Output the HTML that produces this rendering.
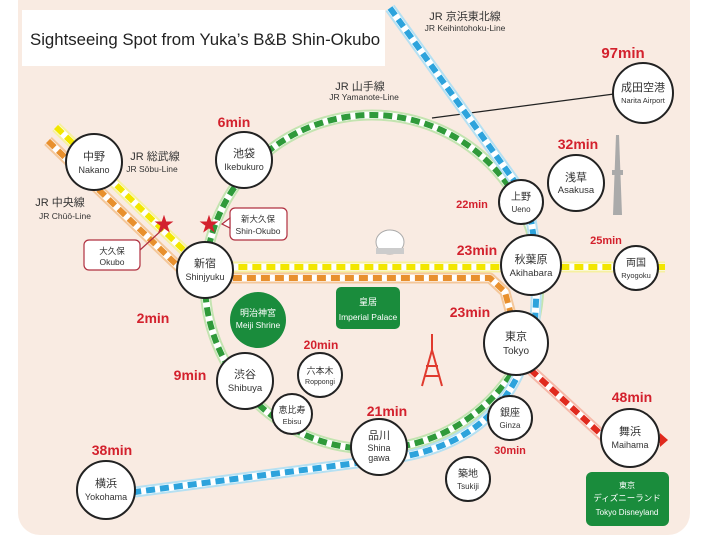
<!DOCTYPE html>
<html><head><meta charset="utf-8"><style>
html,body{margin:0;padding:0;background:#fff;}
svg{display:block;font-family:"Liberation Sans","Noto Sans CJK JP",sans-serif;}
.t{fill:#d3212d;font-weight:bold;}
.j{fill:#333;}
</style></head><body>
<svg width="720" height="540" viewBox="0 0 720 540" xmlns="http://www.w3.org/2000/svg">
<rect x="18" y="-20" width="672" height="555" rx="22" fill="#f9ebe2"/>
<rect x="22" y="10" width="363" height="56" fill="#fff"/>
<text x="30" y="45" font-size="16.8" fill="#222">Sightseeing Spot from Yuka’s B&amp;B Shin-Okubo</text>

<line x1="432" y1="118" x2="614" y2="94" stroke="#222" stroke-width="1.2"/>

<g fill="none" stroke-linejoin="round">
<g>
<path id="chuo" d="M48 141 L180 268 L205 278 L490 278 L505 292 L512 318"/>
<use href="#chuo" stroke="#f4c79a" stroke-width="11"/>
<use href="#chuo" stroke="#fff" stroke-width="7"/>
<use href="#chuo" stroke="#e8902e" stroke-width="6" stroke-dasharray="9 5"/>
</g>
<g>
<path id="sobu" d="M56 127 L192 258 L205 267 L665 267"/>
<use href="#sobu" stroke="#f6f0a0" stroke-width="11"/>
<use href="#sobu" stroke="#fff" stroke-width="7"/>
<use href="#sobu" stroke="#f2e600" stroke-width="6" stroke-dasharray="9 5"/>
</g>
<g>
<circle id="yam" cx="372" cy="282" r="167"/>
<use href="#yam" stroke="#c3e4b0" stroke-width="11"/>
<use href="#yam" stroke="#fff" stroke-width="7"/>
<use href="#yam" stroke="#2f9a3a" stroke-width="6" stroke-dasharray="9 5"/>
</g>
<g>
<path id="kt" d="M390 8 L528 200 L538 265 L535 320 Q515 440 395 458 L135 492"/>
<use href="#kt" stroke="#b5e0f2" stroke-width="11"/>
<use href="#kt" stroke="#fff" stroke-width="7"/>
<use href="#kt" stroke="#2da3dc" stroke-width="6" stroke-dasharray="9 5"/>
</g>
<g>
<path id="ky" d="M520 360 L605 438 L660 440"/>
<use href="#ky" stroke="#f6b8a8" stroke-width="11"/>
<use href="#ky" stroke="#fff" stroke-width="7"/>
<use href="#ky" stroke="#e02a1e" stroke-width="6" stroke-dasharray="9 5"/>
</g>
</g>
<polygon points="660,433 668,440 660,447" fill="#e02a1e"/>

<text x="164" y="231" font-size="20" fill="#d3212d" text-anchor="middle">★</text>
<text x="209" y="231" font-size="20" fill="#d3212d" text-anchor="middle">★</text>
<rect x="230" y="208" width="57" height="32" rx="5" fill="#fff" stroke="#b03040" stroke-width="1.2"/>
<polygon points="230,218 222,224 230,228" fill="#fff" stroke="#b03040" stroke-width="1.2"/>
<text x="258" y="222" font-size="8.5" text-anchor="middle" class="j">新大久保</text>
<text x="258" y="234" font-size="8.5" text-anchor="middle" class="j">Shin-Okubo</text>
<rect x="84" y="240" width="56" height="30" rx="5" fill="#fff" stroke="#b03040" stroke-width="1.2"/>
<line x1="140" y1="250" x2="163" y2="229" stroke="#b03040" stroke-width="1.2"/>
<text x="112" y="254" font-size="8.5" text-anchor="middle" class="j">大久保</text>
<text x="112" y="265" font-size="8.5" text-anchor="middle" class="j">Okubo</text>

<g font-size="11" class="j" text-anchor="middle">
<text x="465" y="20">JR 京浜東北線</text>
<text x="360" y="90">JR 山手線</text>
<text x="155" y="160">JR 総武線</text>
<text x="60" y="206">JR 中央線</text>
</g>
<g font-size="8.5" class="j" text-anchor="middle">
<text x="465" y="31">JR Keihintohoku-Line</text>
<text x="364" y="100">JR Yamanote-Line</text>
<text x="152" y="172">JR Sōbu-Line</text>
<text x="65" y="219">JR Chūō-Line</text>
</g>

<circle cx="258" cy="320" r="28" fill="#1a8c3c"/>
<text x="258" y="316" font-size="9" fill="#fff" text-anchor="middle">明治神宮</text>
<text x="258" y="328" font-size="8.5" fill="#fff" text-anchor="middle">Meiji Shrine</text>
<rect x="336" y="287" width="64" height="42" rx="5" fill="#1a8c3c"/>
<text x="368" y="305" font-size="9" fill="#fff" text-anchor="middle">皇居</text>
<text x="368" y="320" font-size="8.5" fill="#fff" text-anchor="middle">Imperial Palace</text>
<rect x="586" y="472" width="83" height="54" rx="6" fill="#1a8c3c"/>
<text x="627" y="488" font-size="8" fill="#fff" text-anchor="middle">東京</text>
<text x="627" y="501" font-size="8.5" fill="#fff" text-anchor="middle">ディズニーランド</text>
<text x="627" y="515" font-size="8" fill="#fff" text-anchor="middle">Tokyo Disneyland</text>

<ellipse cx="390" cy="242" rx="14" ry="12" fill="#fff" stroke="#aaa"/>
<rect x="376" y="248" width="28" height="6" fill="#ccc"/>
<g stroke="#e03a2e" stroke-width="2" fill="none">
<path d="M432 334 L432 350 M432 350 L422 386 M432 350 L442 386 M426 366 L438 366 M424 376 L440 376"/>
</g>
<g fill="#aaa"><polygon points="616,135 619,135 622,215 613,215"/><rect x="612" y="170" width="11" height="5"/></g>

<g fill="#fff" stroke="#222" stroke-width="2">
<circle cx="94" cy="162" r="28"/>
<circle cx="244" cy="160" r="28"/>
<circle cx="205" cy="270" r="28"/>
<circle cx="521" cy="202" r="22"/>
<circle cx="643" cy="93" r="30"/>
<circle cx="576" cy="183" r="28"/>
<circle cx="531" cy="265" r="30"/>
<circle cx="636" cy="268" r="22"/>
<circle cx="516" cy="343" r="32"/>
<circle cx="379" cy="447" r="28"/>
<circle cx="510" cy="418" r="22"/>
<circle cx="468" cy="479" r="22"/>
<circle cx="630" cy="438" r="29"/>
<circle cx="245" cy="381" r="28"/>
<circle cx="292" cy="414" r="20"/>
<circle cx="320" cy="375" r="22"/>
<circle cx="106" cy="490" r="29"/>
</g>
<g class="j" text-anchor="middle" font-size="11">
<text x="94" y="160">中野</text><text x="94" y="173" font-size="9">Nakano</text>
<text x="244" y="157">池袋</text><text x="244" y="170" font-size="9">Ikebukuro</text>
<text x="205" y="267">新宿</text><text x="205" y="280" font-size="9">Shinjyuku</text>
<text x="521" y="200" font-size="10">上野</text><text x="521" y="212" font-size="8">Ueno</text>
<text x="643" y="91">成田空港</text><text x="643" y="103" font-size="7.5">Narita Airport</text>
<text x="576" y="181">浅草</text><text x="576" y="193" font-size="9.5">Asakusa</text>
<text x="531" y="263">秋葉原</text><text x="531" y="276" font-size="9.5">Akihabara</text>
<text x="636" y="266" font-size="10">両国</text><text x="636" y="278" font-size="7.5">Ryogoku</text>
<text x="516" y="340">東京</text><text x="516" y="354" font-size="10">Tokyo</text>
<text x="379" y="439">品川</text><text x="379" y="451" font-size="9">Shina</text><text x="379" y="461" font-size="9">gawa</text>
<text x="510" y="416" font-size="10">銀座</text><text x="510" y="428" font-size="8">Ginza</text>
<text x="468" y="477" font-size="10">築地</text><text x="468" y="489" font-size="8">Tsukiji</text>
<text x="630" y="435">舞浜</text><text x="630" y="448" font-size="9">Maihama</text>
<text x="245" y="378">渋谷</text><text x="245" y="391" font-size="9.5">Shibuya</text>
<text x="292" y="413" font-size="9">恵比寿</text><text x="292" y="424" font-size="7.5">Ebisu</text>
<text x="320" y="374" font-size="9">六本木</text><text x="320" y="384" font-size="7">Roppongi</text>
<text x="106" y="487">横浜</text><text x="106" y="500" font-size="9">Yokohama</text>
</g>

<g class="t" text-anchor="middle">
<text x="623" y="58" font-size="15">97min</text>
<text x="234" y="127" font-size="14">6min</text>
<text x="578" y="149" font-size="14">32min</text>
<text x="472" y="208" font-size="11">22min</text>
<text x="477" y="255" font-size="14">23min</text>
<text x="606" y="244" font-size="11">25min</text>
<text x="153" y="323" font-size="14">2min</text>
<text x="321" y="349" font-size="12">20min</text>
<text x="470" y="317" font-size="14">23min</text>
<text x="190" y="380" font-size="14">9min</text>
<text x="387" y="416" font-size="14">21min</text>
<text x="632" y="402" font-size="14">48min</text>
<text x="112" y="455" font-size="14">38min</text>
<text x="510" y="454" font-size="11">30min</text>
</g>
</svg>
</body></html>
